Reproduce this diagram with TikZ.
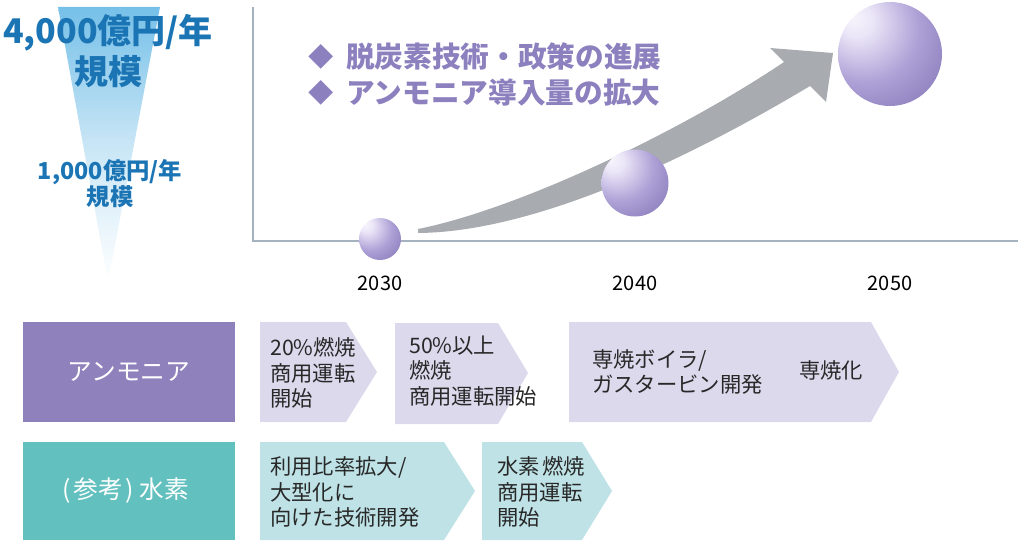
\documentclass[tikz,border=0pt]{standalone}
\usepackage{fontspec}
\setmainfont{Noto Sans CJK JP}
\definecolor{blueT}{RGB}{27,117,180}
\definecolor{funnelTop}{RGB}{118,192,232}
\definecolor{axisC}{RGB}{165,178,192}
\definecolor{arrowG}{RGB}{168,171,175}
\definecolor{headP}{RGB}{140,128,190}
\definecolor{boxP}{RGB}{143,130,188}
\definecolor{boxT}{RGB}{98,192,190}
\definecolor{chevP}{RGB}{221,217,237}
\definecolor{chevT}{RGB}{190,226,230}
\definecolor{txt}{RGB}{40,40,40}
\pgfdeclareradialshading{lavball}{\pgfpoint{-18bp}{18bp}}{%
 rgb(0bp)=(0.97,0.96,0.99);
 rgb(8bp)=(0.92,0.90,0.97);
 rgb(26bp)=(0.68,0.63,0.84);
 rgb(40bp)=(0.56,0.51,0.75);
 rgb(80bp)=(0.56,0.51,0.75)}
\tikzset{
  bigblue/.style={text=blueT,font=\fontsize{25.5}{28}\selectfont\bfseries,inner sep=0pt,align=center},
  smallblue/.style={text=blueT,font=\fontsize{17.5}{19}\selectfont\bfseries,inner sep=0pt,align=center},
  year/.style={text=black,font=\fontsize{15}{18}\selectfont,inner sep=0pt},
  head/.style={text=headP,font=\fontsize{21.5}{25}\selectfont\bfseries,inner sep=0pt,anchor=west},
  bullet/.style={text=headP,font=\fontsize{19}{20}\selectfont,inner sep=0pt},
  labbox/.style={text=white,font=\fontsize{18.5}{20}\selectfont,inner sep=0pt},
  chevtext/.style={text=txt,font=\fontsize{16}{19}\selectfont,inner sep=0pt,anchor=west,align=left},
}
\begin{document}
\begin{tikzpicture}[x=0.75pt,y=-0.75pt]
\useasboundingbox (0,0) rectangle (1020,542);
% funnel
\shade[top color=funnelTop,bottom color=white,middle color=funnelTop!40] (58,7) -- (160,7) -- (108,282) -- cycle;
\node[bigblue] (t4000) at (108,33) {4,000億円/年};
\node[bigblue] (t4000b) at (108,72) {規模};
\node[smallblue] (t1000) at (110,172) {1,000億円/年};
\node[smallblue] (t1000b) at (110,197) {規模};
% axes
\draw[axisC,line width=1.2pt] (253,7) -- (253,241) -- (1018,241);
% arrow
\fill[arrowG] (418,229) .. controls (518,209) and (680,132) .. (784,62)
  -- (770,48) -- (833,53) -- (826,102) -- (810,86)
  .. controls (700,152) and (540,232) .. (418,233) -- cycle;
% balls
\shade[shading=lavball] (380,239) circle[radius=21];
\shade[shading=lavball] (635,183) circle[radius=33.5];
\shade[shading=lavball] (890,54) circle[radius=52];
% years
\node[year] (y2030) at (380,283) {2030};
\node[year] (y2040) at (635,283) {2040};
\node[year] (y2050) at (890,283) {2050};
% headline
\node[bullet] (d1) at (321,57) {◆};
\node[head] (h1) at (346,57) {脱炭素技術・政策の進展};
\node[bullet] (d2) at (321,93) {◆};
\node[head] (h2) at (346,93) {アンモニア導入量の拡大};
% label boxes
\fill[boxP] (23,322) rectangle (235,422);
\node[labbox] (lam) at (129,372) {アンモニア};
\fill[boxT] (23,442) rectangle (235,540);
\node[labbox] (lh2) at (126,491) {(\hspace{2pt}参考\hspace{2pt})\hspace{4pt}水素};
% chevrons row 1
\fill[chevP] (260,322) -- (346,322) -- (377,372) -- (346,422) -- (260,422) -- cycle;
\node[chevtext] (c1) at (270,373) {20\%燃焼\\商用運転\\開始};
\fill[chevP] (395,323) -- (498,323) -- (528,373) -- (498,424) -- (395,424) -- cycle;
\node[chevtext] (c2) at (409,371) {50\%以上\\燃焼\\商用運転開始};
\fill[chevP] (569,322) -- (871,322) -- (899,372) -- (871,422) -- (569,422) -- cycle;
\node[chevtext] (c3) at (592,372) {専焼ボイラ/\\ガスタービン開発};
\node[chevtext] (c3b) at (799,370) {専焼化};
% chevrons row 2
\fill[chevT] (260,442) -- (444,442) -- (475,491) -- (444,540) -- (260,540) -- cycle;
\node[chevtext] (c4) at (270,492) {利用比率拡大/\\大型化に\\向けた技術開発};
\fill[chevT] (482,442) -- (582,442) -- (612,491) -- (582,540) -- (482,540) -- cycle;
\node[chevtext] (c5) at (497,492) {水素\hspace{2pt}燃焼\\商用運転\\開始};
\end{tikzpicture}
\end{document}
